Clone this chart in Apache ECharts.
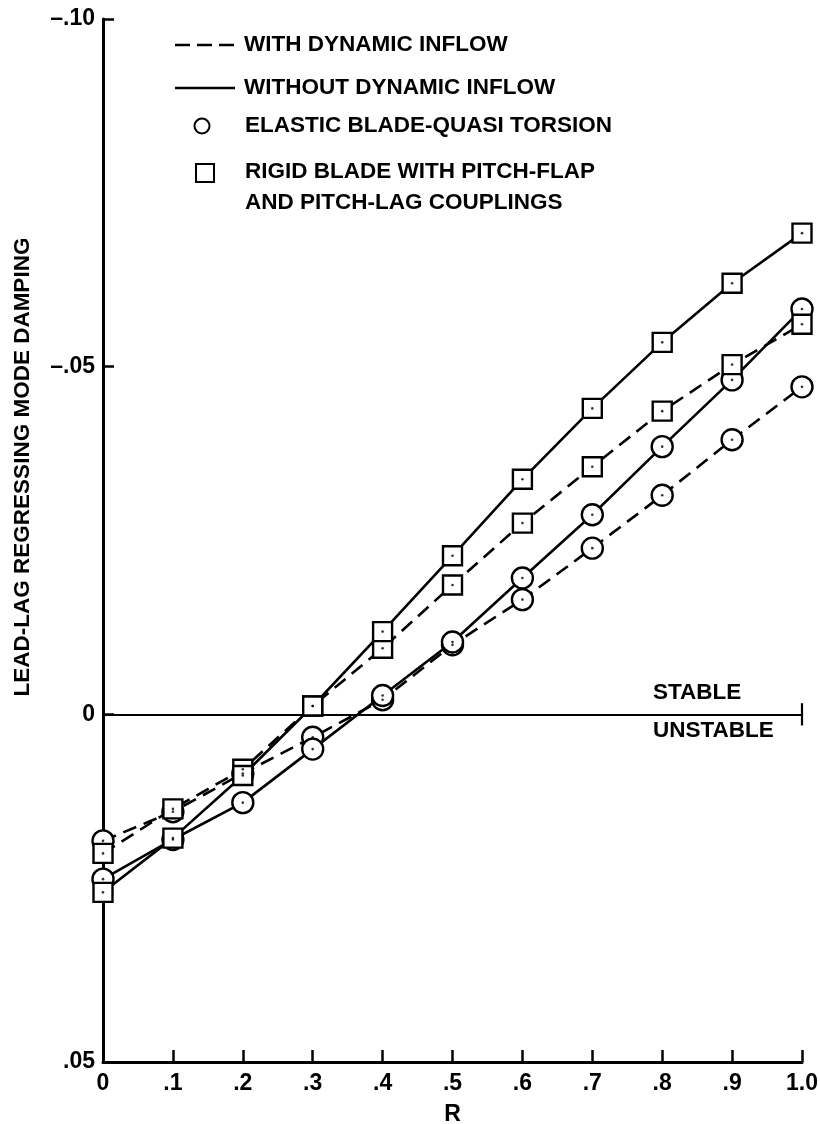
<!DOCTYPE html>
<html>
<head>
<meta charset="utf-8">
<script src="https://cdn.jsdelivr.net/npm/echarts@6/dist/echarts.min.js"></script>
<style>
html,body{margin:0;padding:0;background:#fff;}
#chart{width:820px;height:1124px;}
</style>
</head>
<body>
<div id="chart"></div>
<script>
// ---- data ----
const rValues = [0, 0.1, 0.2, 0.3, 0.4, 0.5, 0.6, 0.7, 0.8, 0.9, 1.0];
// rigid blade, without dynamic inflow (solid, squares)
const rigidWithout = [0.0256, 0.0178, 0.0088, -0.0012, -0.0119, -0.0228, -0.0338, -0.0440, -0.0535, -0.0620, -0.0692];
// rigid blade, with dynamic inflow (dashed, squares)
const rigidWith = [0.0200, 0.0136, 0.0079, -0.0012, -0.0095, -0.0186, -0.0275, -0.0356, -0.0436, -0.0503, -0.0561];
// elastic blade, without dynamic inflow (solid, circles)
const elasticWithout = [0.0237, 0.0180, 0.0127, 0.0050, -0.0027, -0.0104, -0.0196, -0.0287, -0.0385, -0.0481, -0.0583];
// elastic blade, with dynamic inflow (dashed, circles)
const elasticWith = [0.0182, 0.0140, 0.0085, 0.0033, -0.0021, -0.0100, -0.0165, -0.0239, -0.0315, -0.0395, -0.0471];

const yTickLabels = {'-0.1': '\u2013.10', '-0.05': '\u2013.05', '0': '0', '0.05': '.05'};
const xTickLabels = ['0', '.1', '.2', '.3', '.4', '.5', '.6', '.7', '.8', '.9', '1.0'];
const legendTexts = ['WITH DYNAMIC INFLOW', 'WITHOUT DYNAMIC INFLOW', 'ELASTIC BLADE-QUASI TORSION', 'RIGID BLADE WITH PITCH-FLAP', 'AND PITCH-LAG COUPLINGS'];
const yAxisTitle = 'LEAD-LAG REGRESSING MODE DAMPING';
const xAxisTitle = 'R';
const stableText = 'STABLE';
const unstableText = 'UNSTABLE';

const FONT = '"Liberation Sans", Arial, sans-serif';
const pairs = arr => rValues.map((r, i) => [r, arr[i]]);

function lineSeries(name, arr, dashed, symbol, size, z) {
  return {
    name: name, type: 'line', data: pairs(arr), z: z,
    symbol: symbol, symbolSize: size, showAllSymbol: true,
    lineStyle: {color: '#000', width: 2.6, type: dashed ? [14, 8] : 'solid'},
    itemStyle: {color: '#fff', borderColor: '#000', borderWidth: 2.4},
    emphasis: {disabled: true}, animation: false
  };
}
function dotSeries(arr, z) {
  return {
    type: 'scatter', data: pairs(arr), z: z, symbol: 'circle', symbolSize: 2.6,
    itemStyle: {color: '#000'}, emphasis: {disabled: true}, animation: false, silent: true
  };
}

const chart = echarts.init(document.getElementById('chart'), null, {renderer: 'canvas'});
const option = {
  backgroundColor: '#fff',
  animation: false,
  grid: {left: 103, right: 18, top: 19, bottom: 62, containLabel: false, outerBoundsMode: 'none'},
  xAxis: {
    type: 'value', min: 0, max: 1, interval: 0.1,
    axisLine: {show: true, onZero: false, lineStyle: {color: '#000', width: 3}},
    axisTick: {show: true, inside: true, length: 12, lineStyle: {color: '#000', width: 2.5}},
    splitLine: {show: false},
    axisLabel: {
      color: '#000', fontFamily: FONT, fontWeight: 'bold', fontSize: 23, margin: 10,
      formatter: v => xTickLabels[Math.round(v * 10)]
    },
    name: xAxisTitle, nameLocation: 'middle', nameGap: 41,
    nameTextStyle: {color: '#000', fontFamily: FONT, fontWeight: 'bold', fontSize: 23}
  },
  yAxis: {
    type: 'value', min: -0.1, max: 0.05, interval: 0.05, inverse: true,
    axisLine: {show: true, onZero: false, lineStyle: {color: '#000', width: 3}},
    axisTick: {show: true, inside: true, length: 11, lineStyle: {color: '#000', width: 2.5}},
    splitLine: {show: false},
    axisLabel: {
      color: '#000', fontFamily: FONT, fontWeight: 'bold', fontSize: 23, margin: 8,
      padding: [10, 0, 0, 0],
      formatter: v => yTickLabels[String(Math.round(v * 100) / 100)]
    }
  },
  graphic: [],
  series: [
    Object.assign(lineSeries('elasticWith', elasticWith, true, 'circle', 21, 2), {
      markLine: {
        silent: true, symbol: 'none', animation: false,
        label: {show: false},
        lineStyle: {color: '#000', width: 2.2, type: 'solid'},
        data: [
          {yAxis: 0},
          [{coord: [1.0, -0.0016]}, {coord: [1.0, 0.0016]}]
        ]
      }
    }),
    lineSeries('elasticWithout', elasticWithout, false, 'circle', 21, 3),
    lineSeries('rigidWith', rigidWith, true, 'rect', 19, 4),
    lineSeries('rigidWithout', rigidWithout, false, 'rect', 19, 5),
    dotSeries(elasticWith, 6),
    dotSeries(elasticWithout, 6),
    dotSeries(rigidWith, 6),
    dotSeries(rigidWithout, 6)
  ]
};

const txt = (x, y, s, extra) => Object.assign({
  type: 'text', x: x, y: y,
  style: {text: s, fill: '#000', font: 'bold 22.5px ' + FONT, textVerticalAlign: 'middle', textAlign: 'left'}
}, extra || {});

option.graphic = [
  // legend
  {type: 'line', shape: {x1: 175, y1: 45, x2: 235, y2: 45}, style: {stroke: '#000', lineWidth: 2.6, lineDash: [15, 7]}},
  txt(244, 45, legendTexts[0]),
  {type: 'line', shape: {x1: 175, y1: 88, x2: 235, y2: 88}, style: {stroke: '#000', lineWidth: 2.6}},
  txt(244, 88, legendTexts[1]),
  {type: 'circle', shape: {cx: 202, cy: 126, r: 7.5}, style: {fill: '#fff', stroke: '#000', lineWidth: 2}},
  txt(245, 126, legendTexts[2]),
  {type: 'rect', shape: {x: 196, y: 164, width: 18, height: 18}, style: {fill: '#fff', stroke: '#000', lineWidth: 2}},
  txt(245, 172, legendTexts[3]),
  txt(245, 203, legendTexts[4]),
  // y-axis title (rotated)
  {type: 'text', x: 23, y: 467, rotation: Math.PI / 2,
   style: {text: yAxisTitle, fill: '#000', font: 'bold 22.5px ' + FONT, textAlign: 'center', textVerticalAlign: 'middle'}},
  // stable / unstable
  txt(653, 693, stableText),
  txt(653, 731, unstableText)
];

chart.setOption(option);
</script>
</body>
</html>
